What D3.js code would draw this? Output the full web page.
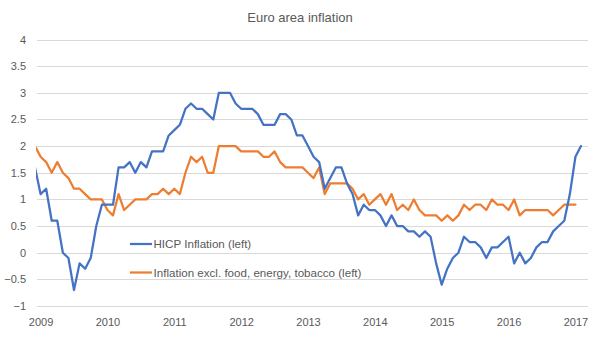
<!DOCTYPE html>
<html>
<head>
<meta charset="utf-8">
<script src="https://cdn.jsdelivr.net/npm/d3@7"></script>
<style>
  html, body { margin: 0; padding: 0; background: #ffffff; }
  svg { display: block; }
  text { font-family: "Liberation Sans", Arial, sans-serif; fill: #595959; }
</style>
</head>
<body>
<svg id="chart" width="600" height="351"></svg>
<script>
// ---- Data (monthly, Dec 2008 onward) ----
const startMonth = new Date(2008, 11, 1);
const hicpInflation = [
  1.6,
  1.1, 1.2, 0.6, 0.6, 0.0, -0.1, -0.7, -0.2, -0.3, -0.1, 0.5, 0.9,
  0.9, 0.9, 1.6, 1.6, 1.7, 1.5, 1.7, 1.6, 1.9, 1.9, 1.9, 2.2,
  2.3, 2.4, 2.7, 2.8, 2.7, 2.7, 2.6, 2.5, 3.0, 3.0, 3.0, 2.8,
  2.7, 2.7, 2.7, 2.6, 2.4, 2.4, 2.4, 2.6, 2.6, 2.5, 2.2, 2.2,
  2.0, 1.8, 1.7, 1.2, 1.4, 1.6, 1.6, 1.3, 1.1, 0.7, 0.9, 0.8,
  0.8, 0.7, 0.5, 0.7, 0.5, 0.5, 0.4, 0.4, 0.3, 0.4, 0.3, -0.2,
  -0.6, -0.3, -0.1, 0.0, 0.3, 0.2, 0.2, 0.1, -0.1, 0.1, 0.1, 0.2,
  0.3, -0.2, 0.0, -0.2, -0.1, 0.1, 0.2, 0.2, 0.4, 0.5, 0.6, 1.1,
  1.8, 2.0
];
const coreInflation = [
  2.0,
  1.8, 1.7, 1.5, 1.7, 1.5, 1.4, 1.2, 1.2, 1.1, 1.0, 1.0, 1.0,
  0.8, 0.7, 1.1, 0.8, 0.9, 1.0, 1.0, 1.0, 1.1, 1.1, 1.2, 1.1,
  1.2, 1.1, 1.5, 1.8, 1.7, 1.8, 1.5, 1.5, 2.0, 2.0, 2.0, 2.0,
  1.9, 1.9, 1.9, 1.9, 1.8, 1.8, 1.9, 1.7, 1.6, 1.6, 1.6, 1.6,
  1.5, 1.4, 1.6, 1.1, 1.3, 1.3, 1.3, 1.3, 1.2, 1.0, 1.1, 0.9,
  1.0, 1.1, 0.9, 1.1, 0.8, 0.9, 0.8, 1.0, 0.8, 0.7, 0.7, 0.7,
  0.6, 0.7, 0.6, 0.7, 0.9, 0.8, 0.9, 0.9, 0.8, 1.0, 0.9, 0.9,
  0.8, 1.0, 0.7, 0.8, 0.8, 0.8, 0.8, 0.8, 0.7, 0.8, 0.9, 0.9,
  0.9
];
const yearLabels = ["2009", "2010", "2011", "2012", "2013", "2014", "2015", "2016", "2017"];
const yTickValues = [-1, -0.5, 0, 0.5, 1, 1.5, 2, 2.5, 3, 3.5, 4];
const seriesNames = ["HICP Inflation (left)", "Inflation excl. food, energy, tobacco (left)"];
const seriesColors = ["#4472C4", "#ED7D31"];
const titleText = "Euro area inflation";

// categories (month keys) derived from start month
const fmt = d3.timeFormat("%Y-%m");
const categories = d3.range(hicpInflation.length).map(i => fmt(d3.timeMonth.offset(startMonth, i)));

// ---- Layout ----
const svg = d3.select("#chart");
const plotLeft = 36, plotRight = 588;

const x = d3.scalePoint().domain(categories).range([35, 581]);
const y = d3.scaleLinear().domain([-1, 4]).range([306, 39.5]);

svg.append("rect").attr("width", 600).attr("height", 351).attr("fill", "#fff");

// Title
svg.append("text")
  .attr("x", 300).attr("y", 21.5)
  .attr("text-anchor", "middle")
  .style("font-size", "13px")
  .text(titleText);

// Gridlines
const yAxis = d3.axisLeft(y).tickValues(yTickValues).tickSize(0).tickPadding(0)
  .tickFormat(d3.format("~g"));
const gy = svg.append("g").attr("transform", `translate(${26},0)`).call(yAxis);
gy.select(".domain").remove();
gy.selectAll("text").style("font-size", "11px").attr("fill", "#595959")
  .style("font-family", '"Liberation Sans", Arial, sans-serif');

svg.append("g").selectAll("line").data(yTickValues).join("line")
  .attr("x1", 37).attr("x2", plotRight)
  .attr("y1", d => Math.round(y(d)) + 0.5).attr("y2", d => Math.round(y(d)) + 0.5)
  .attr("stroke", "#D9D9D9").attr("stroke-width", 1);

// X axis labels (January of each year)
const janCats = yearLabels.map(yy => yy + "-01");
const xAxis = d3.axisBottom(x).tickValues(janCats).tickSize(0).tickPadding(0)
  .tickFormat(d => yearLabels[janCats.indexOf(d)]);
const gx = svg.append("g").attr("transform", `translate(0,${318})`).call(xAxis);
gx.select(".domain").remove();
gx.selectAll("text").style("font-size", "11px").attr("fill", "#595959")
  .attr("dy", "0.71em")
  .style("font-family", '"Liberation Sans", Arial, sans-serif');

// Clip
svg.append("clipPath").attr("id", "plotclip")
  .append("rect").attr("x", plotLeft).attr("y", 0).attr("width", plotRight - plotLeft).attr("height", 351);

const line = d3.line().x((d, i) => x(categories[i])).y(d => y(d));

const plot = svg.append("g").attr("clip-path", "url(#plotclip)");
[coreInflation, hicpInflation].forEach((s, k) => {
  const ci = k === 0 ? 1 : 0;
  plot.append("path")
    .datum(s)
    .attr("d", line)
    .attr("fill", "none")
    .attr("stroke", seriesColors[ci])
    .attr("stroke-width", 2.25)
    .attr("stroke-linejoin", "round")
    .attr("stroke-linecap", "round");
});

// Legend
const legendY = [244, 272.5];
const lg = svg.append("g");
seriesNames.forEach((name, i) => {
  lg.append("line")
    .attr("x1", 130).attr("x2", 152)
    .attr("y1", legendY[i]).attr("y2", legendY[i])
    .attr("stroke", seriesColors[i]).attr("stroke-width", 2.25);
  lg.append("text")
    .attr("x", 153.5).attr("y", legendY[i])
    .attr("dy", "0.35em")
    .style("font-size", "11.6px")
    .text(name);
});
</script>
</body>
</html>
